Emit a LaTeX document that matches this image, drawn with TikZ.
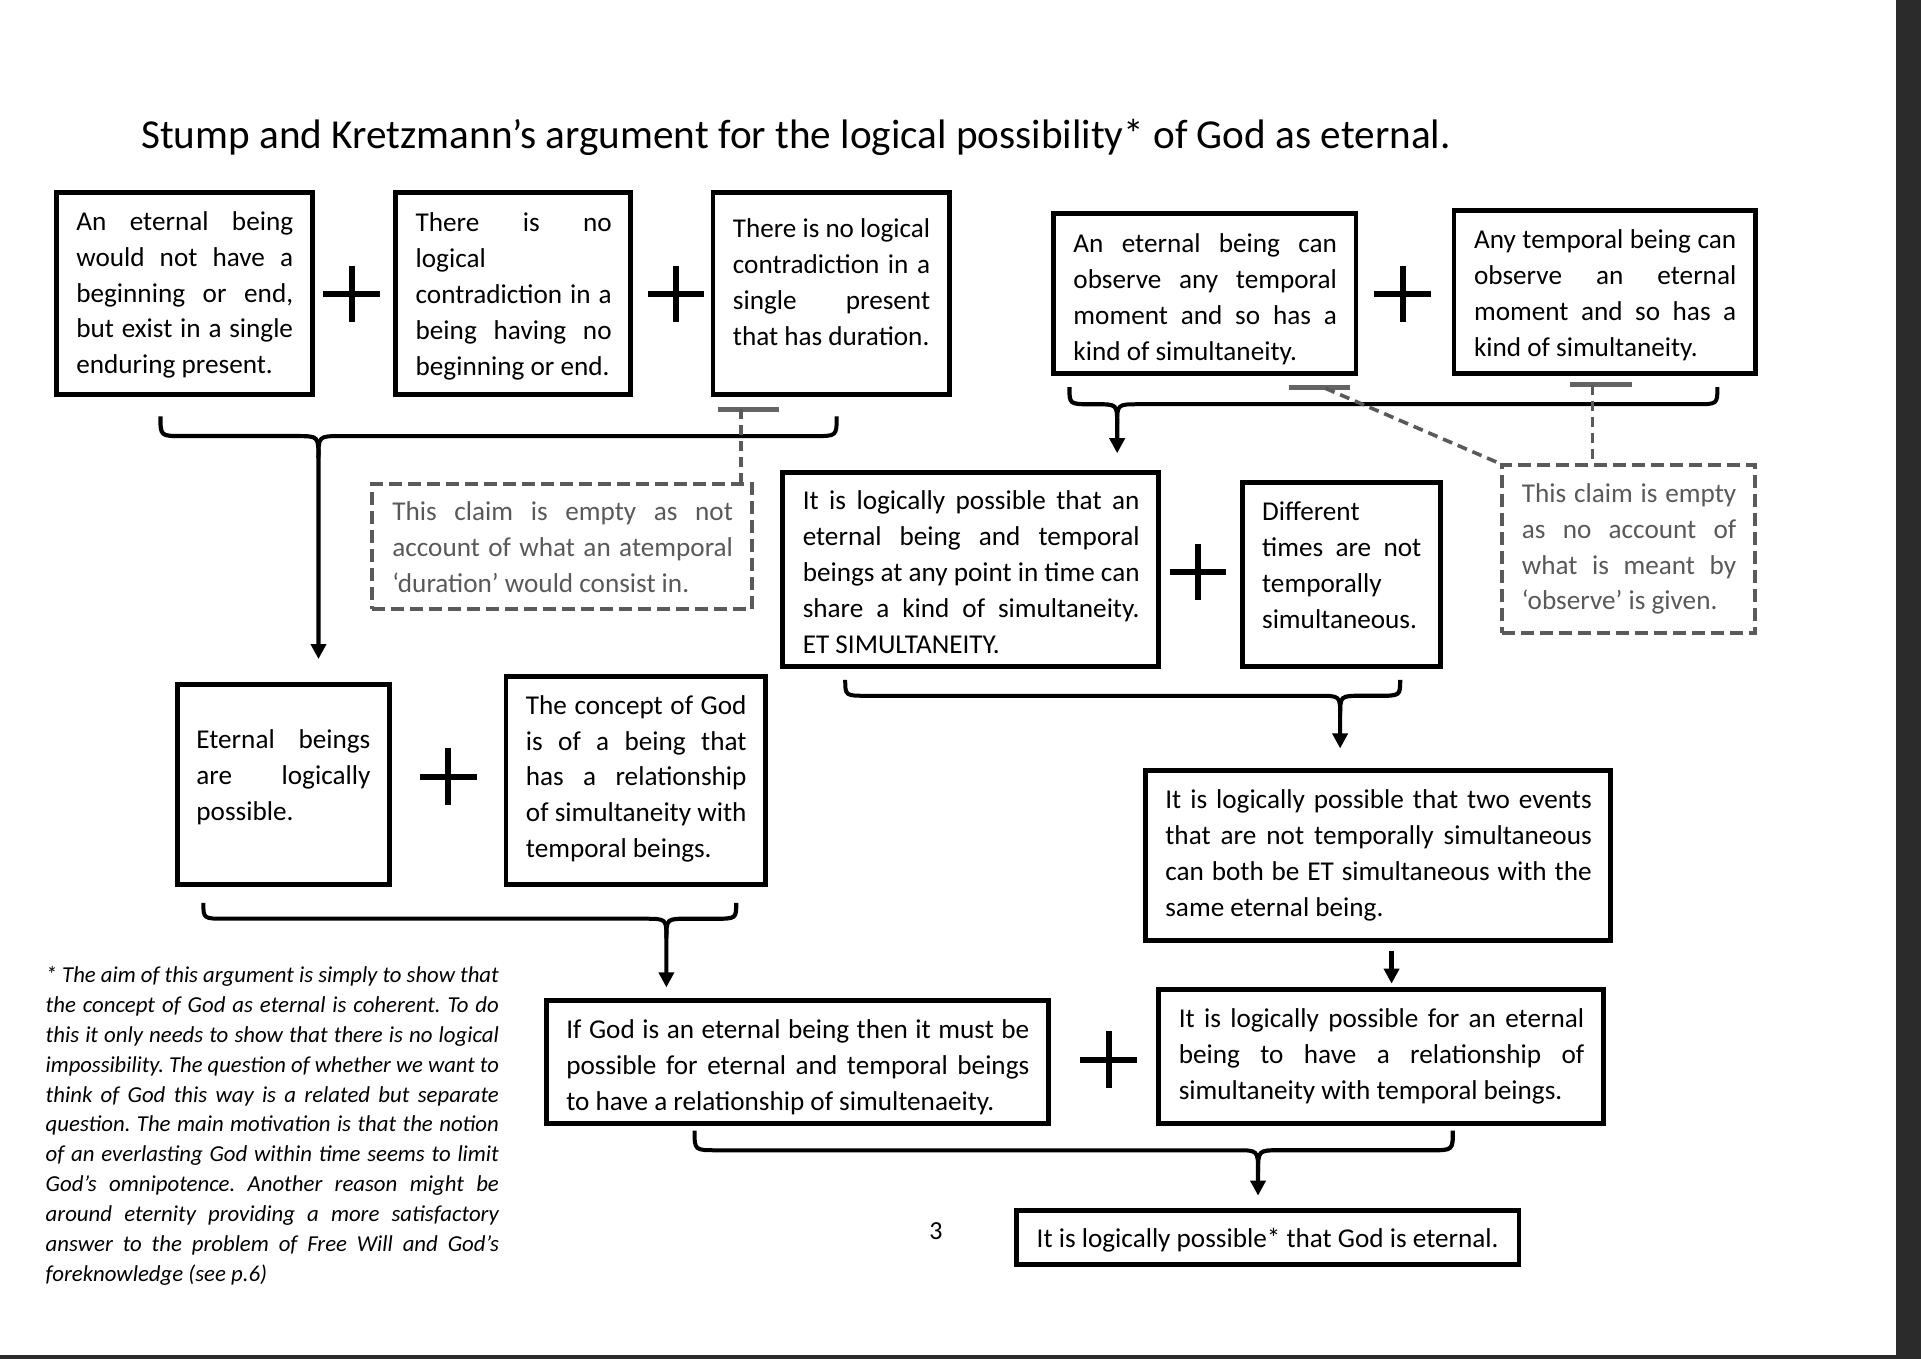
\documentclass[tikz,border=0pt]{standalone}
\usepackage{fontspec}
\usepackage{graphicx}
\setmainfont{Carlito}
\usetikzlibrary{arrows.meta,fit,calc}
\frenchspacing
\newsavebox\jlbox
\newcommand\jl[1]{{\spaceskip=\fontdimen2\font plus 1fil\relax\xspaceskip=\spaceskip\sbox\jlbox{#1}\ifdim\wd\jlbox>\hsize\resizebox{\hsize}{\height}{\usebox\jlbox}\else\makebox[\hsize][s]{#1}\fi}}
\newcommand\lastl[1]{{\spaceskip=\fontdimen2\font\relax\xspaceskip=\spaceskip\sbox\jlbox{#1}\ifdim\wd\jlbox>\hsize\resizebox{\hsize}{\height}{\usebox\jlbox}\else\usebox\jlbox\fi}}
\definecolor{notegray}{HTML}{595959}
\definecolor{dashgray}{HTML}{5A5A5A}
\definecolor{bargray}{HTML}{646464}
\definecolor{stripgray}{HTML}{2B2B2B}
\begin{document}
\begin{tikzpicture}[x=0.6125pt,y=-0.6125pt,
  box/.style={draw=black,line width=2.4pt,inner sep=0pt},
  dbox/.style={draw=dashgray,line width=2pt,dash pattern=on 6.5pt off 3pt,inner sep=0pt},
  txt/.style={anchor=base west,inner sep=0pt,align=left,font=\fontsize{13.6pt}{17.95pt}\selectfont},
  ntxt/.style={txt,text=notegray},
  bracel/.style={draw=black,line width=2pt},
  stem/.style={draw=black,line width=2.1pt,-{Triangle[length=7.5pt,width=7.5pt]}},
  tbar/.style={draw=bargray,line width=2.5pt},
  dashl/.style={draw=dashgray,line width=1.8pt,dash pattern=on 5pt off 3pt},
  plussign/.pic={\draw[line width=3pt] (-23,0)--(23,0) (0,-23)--(0,23);}
]
\fill[white] (0,0) rectangle (1568.2,1109.4);
\useasboundingbox (0,0) rectangle (1568.2,1109.4);
\fill[stripgray] (1548,0) rectangle (1568.2,1109.4);
\fill[stripgray] (0,1106) rectangle (1568.2,1109.4);

% title
\node[anchor=base west,inner sep=0pt,font=\fontsize{20.6pt}{24pt}\selectfont] (title) at (115,121)
  {Stump and Kretzmann’s argument for the logical possibility* of God as eternal.};

% top row left
\node[txt,text width=108.4pt] (a1t) at (62,188) {\jl{An eternal being}\\\jl{would not have a}\\\jl{beginning or end,}\\\jl{but exist in a single}\\\lastl{enduring present.}};
\node[box,fit={(46,157)(255,322)}] (a1) {};
\pic at (287,240) {plussign};
\node[txt,text width=98pt] (a2t) at (339,189) {\jl{There is no}\\\lastl{logical}\\\jl{contradiction in a}\\\jl{being having no}\\\lastl{beginning or end.}};
\node[box,fit={(323,157)(515,322)}] (a2) {};
\pic at (552,240) {plussign};
\node[txt,text width=98.6pt] (a3t) at (598,194) {\jl{There is no logical}\\\jl{contradiction in a}\\\jl{single present}\\\lastl{that has duration.}};
\node[box,fit={(582,157)(775,322)}] (a3) {};

% top row right
\node[txt,text width=131.7pt] (a4t) at (876,206) {\jl{An eternal being can}\\\jl{observe any temporal}\\\jl{moment and so has a}\\\lastl{kind of simultaneity.}};
\node[box,fit={(860,174)(1107,305)}] (a4) {};
\pic at (1145,240) {plussign};
\node[txt,text width=131.1pt] (a5t) at (1203,203) {\jl{Any temporal being can}\\\jl{observe an eternal}\\\jl{moment and so has a}\\\lastl{kind of simultaneity.}};
\node[box,fit={(1187,172)(1433,305)}] (a5) {};

% dashed notes
\node[ntxt,text width=170.3pt] (d1t) at (320,425) {\jl{This claim is empty as not}\\\jl{account of what an atemporal}\\\lastl{‘duration’ would consist in.}};
\node[dbox,fit={(304,395)(614,497)}] (d1) {};
\node[ntxt,text width=107.2pt] (d2t) at (1242,410) {\jl{This claim is empty}\\\jl{as no account of}\\\jl{what is meant by}\\\lastl{‘observe’ is given.}};
\node[dbox,fit={(1226,380)(1433,517)}] (d2) {};

% middle row
\node[txt,text width=168.4pt] (c1t) at (655,416) {\jl{It is logically possible that an}\\\jl{eternal being and temporal}\\\jl{beings at any point in time can}\\\jl{share a kind of simultaneity.}\\\lastl{ET SIMULTANEITY.}};
\node[box,fit={(639,386)(946,544)}] (c1) {};
\pic at (978,467) {plussign};
\node[txt,text width=79.6pt] (c2t) at (1030,425) {\lastl{Different}\\\jl{times are not}\\\lastl{temporally}\\\lastl{simultaneous.}};
\node[box,fit={(1014,394)(1176,544)}] (c2) {};

\node[txt,text width=87pt] (l1t) at (160,611) {\jl{Eternal beings}\\\jl{are logically}\\\lastl{possible.}};
\node[box,fit={(145,559)(318,722)}] (l1) {};
\pic at (366,634) {plussign};
\node[txt,text width=110.3pt] (l2t) at (429,583) {\jl{The concept of God}\\\jl{is of a being that}\\\jl{has a relationship}\\\jl{of simultaneity with}\\\lastl{temporal beings.}};
\node[box,fit={(413,552)(625,722)}] (l2) {};

\node[txt,text width=213.2pt] (c3t) at (951,660) {\jl{It is logically possible that two events}\\\jl{that are not temporally simultaneous}\\\jl{can both be ET simultaneous with the}\\\lastl{same eternal being.}};
\node[box,fit={(935,629)(1315,768)}] (c3) {};

% bottom row
\node[txt,text width=231.5pt] (e1t) at (462,848) {\jl{If God is an eternal being then it must be}\\\jl{possible for eternal and temporal beings}\\\lastl{to have a relationship of simultenaeity.}};
\node[box,fit={(446,817)(856,917)}] (e1) {};
\pic at (905,865) {plussign};
\node[txt,text width=202.7pt] (e2t) at (962,839) {\jl{It is logically possible for an eternal}\\\jl{being to have a relationship of}\\\lastl{simultaneity with temporal beings.}};
\node[box,fit={(946,808)(1309,917)}] (e2) {};

\node[anchor=base west,inner sep=0pt,font=\fontsize{13.6pt}{17.95pt}\selectfont] (ft) at (846,1018) {It is logically possible* that God is eternal.};
\node[box,fit={(830,988)(1240,1032)}] (f) {};

\node[anchor=base,inner sep=0pt,font=\fontsize{13pt}{15pt}\selectfont] (pg) at (764,1012) {3};

% footnote
\node[txt,font=\itshape\fontsize{11.4pt}{14.95pt}\selectfont,text width=226.6pt] (fn) at (37,802)
{\jl{* The aim of this argument is simply to show that}\\
\jl{the concept of God as eternal is coherent. To do}\\
\jl{this it only needs to show that there is no logical}\\
\jl{impossibility. The question of whether we want to}\\
\jl{think of God this way is a related but separate}\\
\jl{question. The main motivation is that the notion}\\
\jl{of an everlasting God within time seems to limit}\\
\jl{God’s omnipotence. Another reason might be}\\
\jl{around eternity providing a more satisfactory}\\
\jl{answer to the problem of Free Will and God’s}\\
\lastl{foreknowledge (see p.6)}};

% braces
\coordinate (b1) at (260,538);
\draw[bracel] (683,340) .. controls (683,356) .. (665,356) -- (278,356) .. controls (260,356) .. (260,374);
\draw[stem] (131,340) .. controls (131,356) .. (149,356) -- (242,356) .. controls (260,356) .. (260,374) -- (b1);

\coordinate (b2) at (912,370);
\draw[bracel] (1402,316) .. controls (1402,330) .. (1384,330) -- (930,330) .. controls (912,330) .. (912,346);
\draw[stem] (873,316) .. controls (873,330) .. (891,330) -- (894,330) .. controls (912,330) .. (912,346) -- (b2);

\coordinate (b3) at (1094,611);
\draw[bracel] (690,555) .. controls (690,568) .. (708,568) -- (1076,568) .. controls (1094,568) .. (1094,584);
\draw[stem] (1143,555) .. controls (1143,568) .. (1125,568) -- (1112,568) .. controls (1094,568) .. (1094,584) -- (b3);

\coordinate (b4) at (544,806);
\draw[bracel] (166,737) .. controls (166,750) .. (184,750) -- (526,750) .. controls (544,750) .. (544,766);
\draw[stem] (601,737) .. controls (601,750) .. (583,750) -- (562,750) .. controls (544,750) .. (544,766) -- (b4);

\coordinate (b5) at (1027,976);
\draw[bracel] (567,923) .. controls (567,939) .. (585,939) -- (1009,939) .. controls (1027,939) .. (1027,957);
\draw[stem] (1186,923) .. controls (1186,939) .. (1168,939) -- (1045,939) .. controls (1027,939) .. (1027,957) -- (b5);

% C3 -> E2
\coordinate (c3o) at (1136,776);
\coordinate (e2i) at (1136,803);
\draw[stem] (c3o) -- (e2i);

% T markers and dashed links
\coordinate (t1) at (605,334);
\draw[tbar] (586,334) -- (636,334);
\draw[dashl] (t1) -- (t1 |- d1.north);
\coordinate (t2) at (1082,317);
\draw[tbar] (1052,316) -- (1102,316);
\draw[dashl] (t2) -- (d2.north west);
\coordinate (t3) at (1300,314);
\draw[tbar] (1282,314) -- (1332,314);
\draw[dashl] (t3) -- (t3 |- d2.north);
\end{tikzpicture}
\end{document}
